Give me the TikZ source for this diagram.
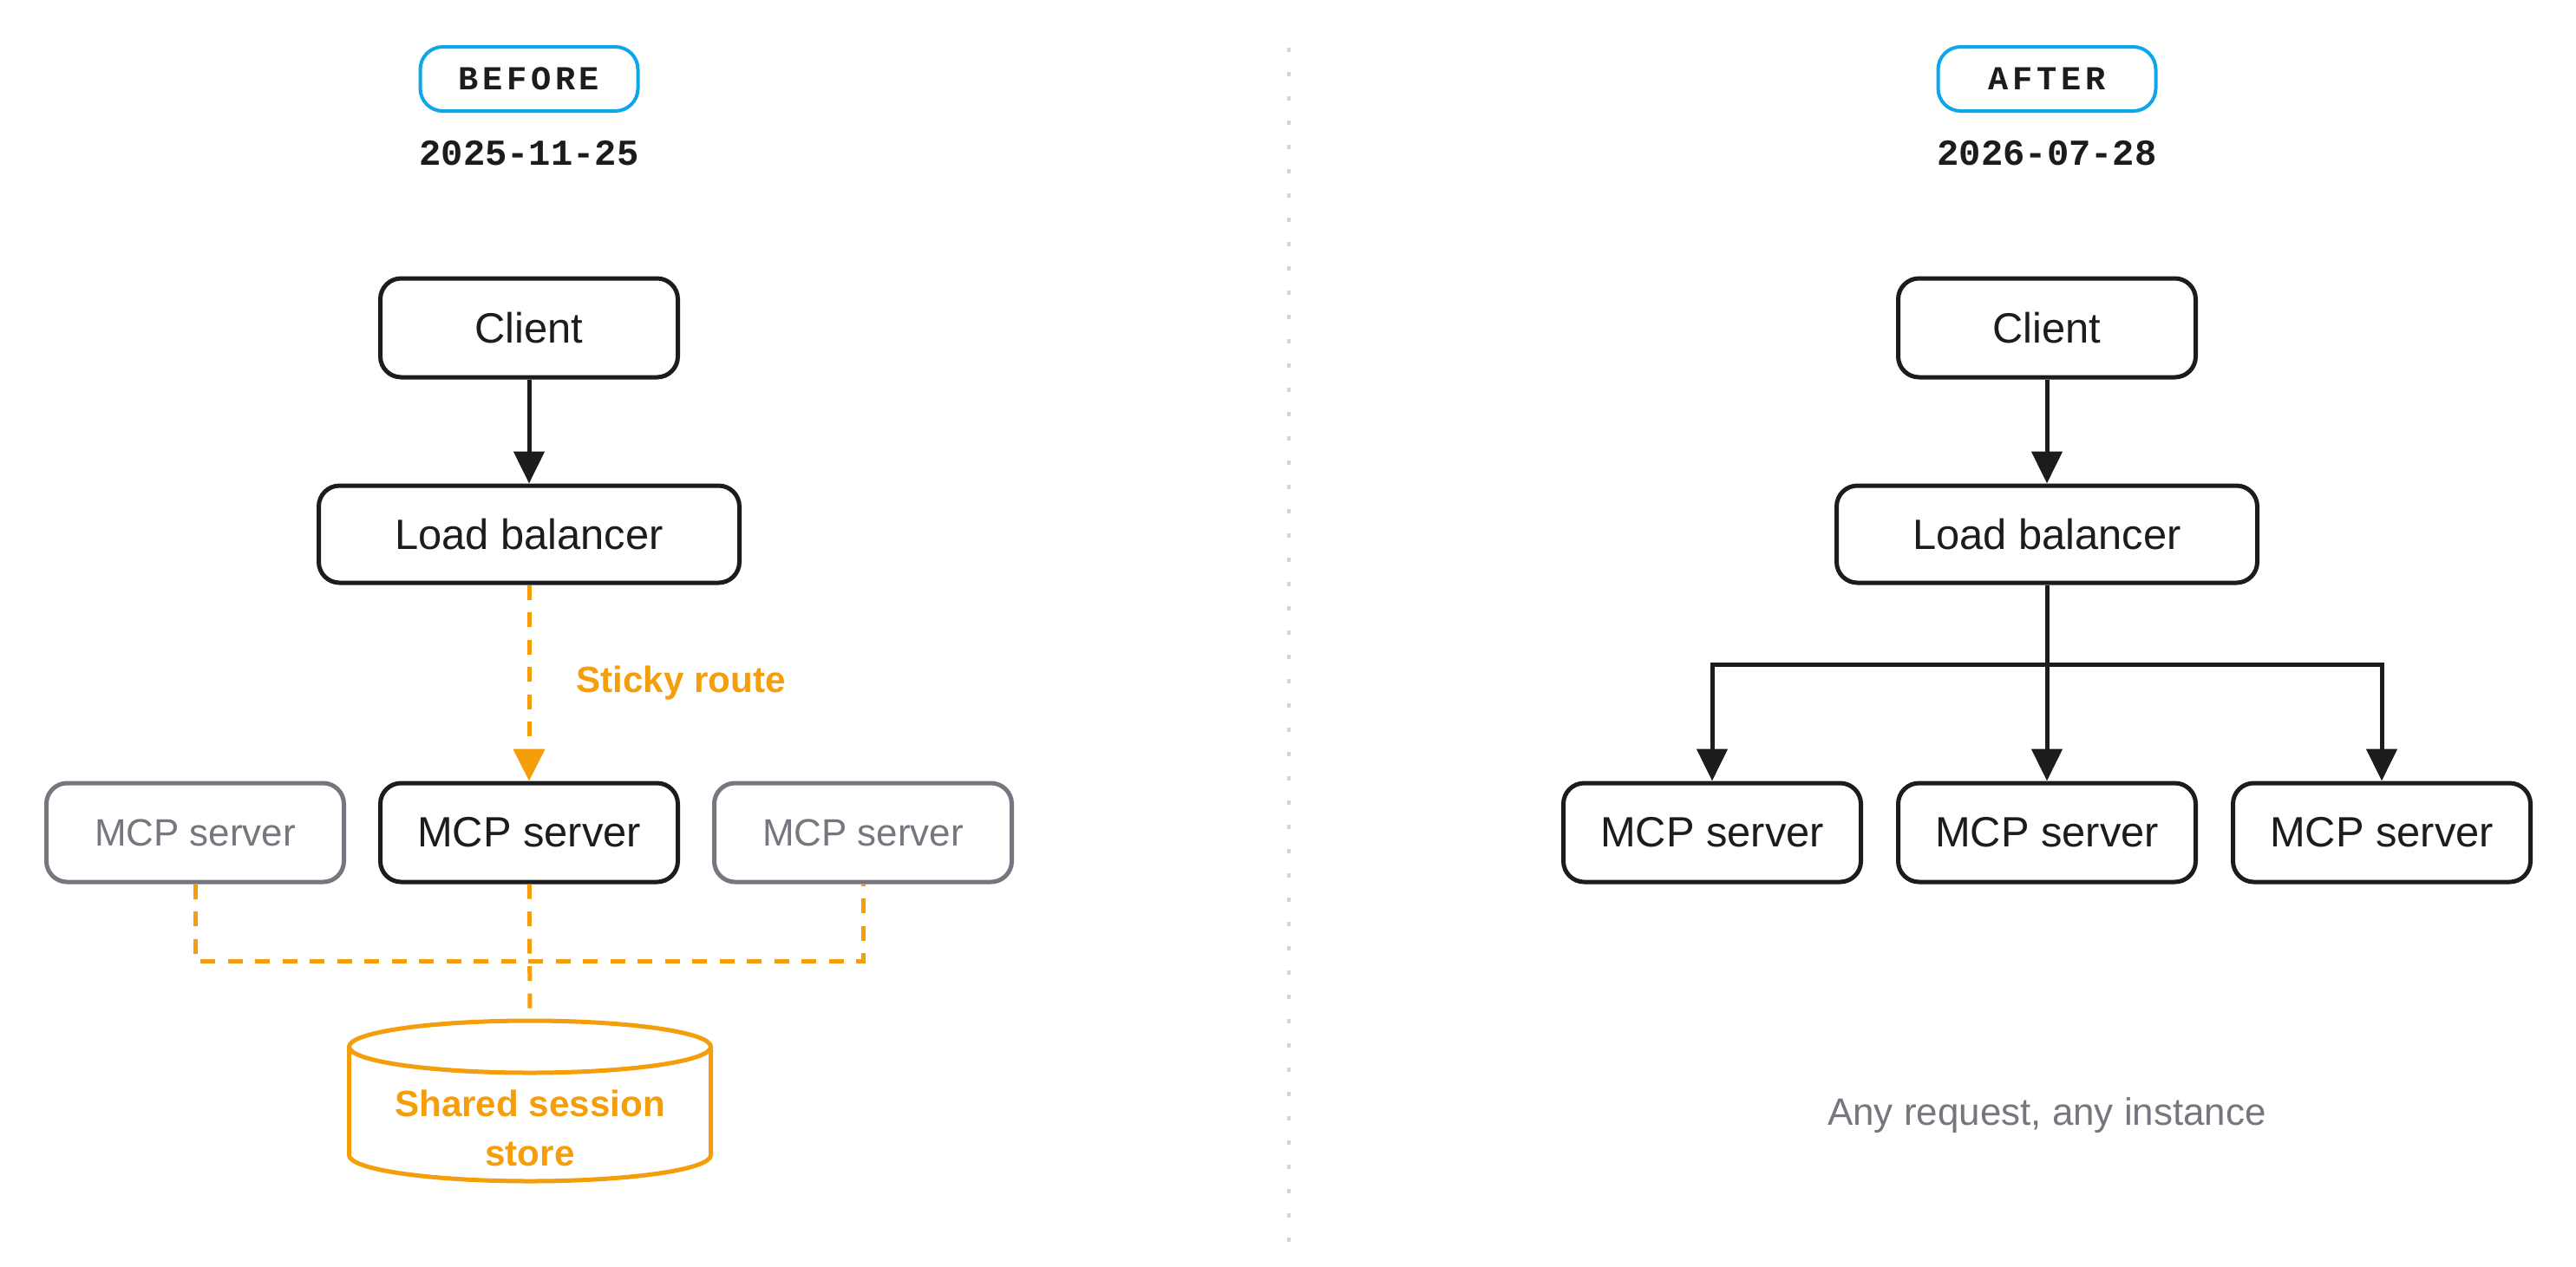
\documentclass[tikz,border=0pt]{standalone}
\usepackage{fontspec}
\setmainfont{Liberation Sans}
\newfontfamily\datefont{Liberation Mono}
\usetikzlibrary{arrows.meta}

\definecolor{ink}{HTML}{1C1C1E}
\definecolor{sky}{HTML}{0EA5E9}
\definecolor{amber}{HTML}{F59E0B}
\definecolor{mute}{HTML}{76767E}
\definecolor{divgray}{HTML}{D4D4D8}

\tikzset{
	box/.style={draw=ink,text=ink,line width=0.05cm,rounded corners=0.24cm,minimum width=3.43cm,minimum height=1.14cm,font=\fontsize{13.9}{16}\selectfont},
	widebox/.style={box,minimum width=4.85cm,minimum height=1.12cm},
	ghost/.style={box,draw=mute,text=mute,font=\fontsize{12.5}{15}\selectfont},
	badge/.style={draw=sky,line width=0.04cm,rounded corners=0.26cm,minimum width=2.51cm,minimum height=0.74cm,text=ink,font=\datefont\bfseries\fontsize{11}{13}\selectfont\addfontfeature{LetterSpace=12}},
	stamp/.style={text=ink,font=\datefont\bfseries\fontsize{12}{14}\selectfont},
	flow/.style={draw=ink,line width=0.05cm,-{Triangle[length=0.37cm,width=0.35cm]}},
	link/.style={draw=ink,line width=0.05cm},
	sticky/.style={draw=amber,line width=0.05cm,dash pattern=on 0.17cm off 0.145cm},
	tag/.style={text=amber,font=\bfseries\fontsize{12}{16}\selectfont}
}

\begin{document}
\begin{tikzpicture}
	\useasboundingbox (0,0) rectangle (29.7,-14.6);
	% divider
	\coordinate (divtop) at (14.86,-0.55);
	\coordinate (divbot) at (14.86,-14.32);
	\draw[divgray,line width=0.035cm,dash pattern=on 0.05cm off 0.23cm] (divtop) -- (divbot);

	% before
	\node[badge] (beforetag) at (6.10,-0.91) {BEFORE};
	\node[stamp] (beforedate) at (6.10,-1.77) {2025-11-25};
	\node[box] (clientL) at (6.10,-3.78) {Client};
	\node[widebox] (lbL) at (6.10,-6.16) {Load balancer};
	\node[ghost] (mcpLa) at (2.25,-9.60) {MCP server};
	\node[box] (mcpL) at (6.10,-9.60) {MCP server};
	\node[ghost] (mcpLb) at (9.95,-9.60) {MCP server};
	\draw[amber,line width=0.05cm,fill=white] (4.025,-12.07) -- (4.025,-13.32) arc[start angle=180,end angle=360,x radius=2.085cm,y radius=0.30cm] -- (8.195,-12.07);
	\draw[amber,line width=0.05cm,fill=white] (6.11,-12.07) ellipse [x radius=2.085cm,y radius=0.30cm];
	\coordinate (storetop) at (6.11,-11.77);
	\node[tag,align=center] (store) at (6.11,-13.01) {Shared session\\store};
	\coordinate (bus) at (6.10,-11.08);
	\draw[flow] (clientL) -- (lbL);
	\draw[sticky,-{Triangle[length=0.37cm,width=0.36cm]}] (lbL) -- node[tag,right,inner sep=0,xshift=0.52cm] (sticky) {Sticky route} (mcpL);
	\draw[sticky] (mcpLa.south) |- (bus) -| (mcpLb.south);
	\draw[sticky] (mcpL) -- (storetop);

	% after
	\node[badge] (aftertag) at (23.60,-0.91) {AFTER};
	\node[stamp] (afterdate) at (23.60,-1.77) {2026-07-28};
	\node[box] (clientR) at (23.60,-3.78) {Client};
	\node[widebox] (lbR) at (23.60,-6.16) {Load balancer};
	\node[box] (mcpRa) at (19.74,-9.60) {MCP server};
	\node[box] (mcpRb) at (23.60,-9.60) {MCP server};
	\node[box] (mcpRc) at (27.46,-9.60) {MCP server};
	\coordinate (fork) at (23.60,-7.66);
	\draw[flow] (clientR) -- (lbR);
	\draw[link] (lbR) -- (fork);
	\draw[flow] (fork) -| (mcpRa.north);
	\draw[flow] (fork) -- (mcpRb);
	\draw[flow] (fork) -| (mcpRc.north);
	\node[text=mute,font=\fontsize{12.5}{15}\selectfont] (note) at (23.60,-12.86) {Any request, any instance};
\end{tikzpicture}
\end{document}
